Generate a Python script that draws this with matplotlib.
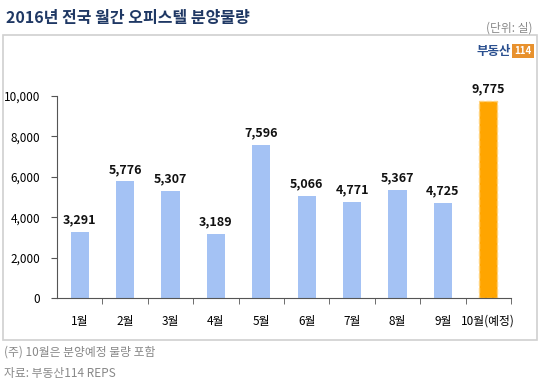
import matplotlib.pyplot as plt
from matplotlib.patches import Rectangle
from matplotlib.ticker import FuncFormatter, FixedLocator

plt.rcParams['font.family'] = ['Noto Sans CJK KR', 'DejaVu Sans']

# 월별 오피스텔 분양물량 (실)
months = ['1월', '2월', '3월', '4월', '5월', '6월', '7월', '8월', '9월', '10월(예정)']
values = [3291, 5776, 5307, 3189, 7596, 5066, 4771, 5367, 4725, 9775]
yticks = [0, 2000, 4000, 6000, 8000, 10000]

fig = plt.figure(figsize=(5.4, 3.84), dpi=100)

# outer frame
fig.patches.append(Rectangle((3 / 540, 1 - 340 / 384), 534 / 540, 305 / 384,
                             transform=fig.transFigure, fill=False,
                             edgecolor='#d0d0d0', linewidth=1.2))

ax = fig.add_axes([57 / 540, 1 - 298 / 384, 454 / 540, 202 / 384])
x = range(len(months))
colors = ['#a4c2f4'] * 9 + ['#ffa500']
bars = ax.bar(x, values, width=0.4, color=colors)
bars[-1].set_edgecolor('#ffd27a')
bars[-1].set_linestyle('--')
bars[-1].set_linewidth(1)

for xi, v in zip(x, values):
    ax.text(xi, v + 250, f'{v:,}', ha='center', va='bottom',
            fontsize=9, fontweight='bold', color='#111111')

ax.set_xlim(-0.5, len(months) - 0.5)
ax.set_ylim(0, 10000)
ax.set_yticks(yticks)
ax.yaxis.set_major_formatter(FuncFormatter(lambda v, p: f'{int(v):,}'))
ax.set_xticks(list(x))
ax.set_xticklabels(months)
ax.xaxis.set_minor_locator(FixedLocator([i + 0.5 for i in range(len(months))]))
ax.tick_params(axis='x', which='major', length=0, pad=12, labelsize=8.5)
ax.tick_params(axis='x', which='minor', length=4, color='#555555')
ax.tick_params(axis='y', length=4, color='#555555', labelsize=8.5, pad=8)
for s in ['top', 'right']:
    ax.spines[s].set_visible(False)
for s in ['left', 'bottom']:
    ax.spines[s].set_color('#555555')

fig.text(6 / 540, 1 - 18 / 384, '2016년 전국 월간 오피스텔 분양물량', fontsize=11.5,
         fontweight='bold', color='#1f3864', va='center')
fig.text(533 / 540, 1 - 28 / 384, '(단위: 실)', fontsize=8.5, color='#888888',
         ha='right', va='center')
fig.text(511 / 540, 1 - 51 / 384, '부동산', fontsize=9, fontweight='bold',
         style='italic', color='#2a4f8f', ha='right', va='center')
fig.text(514 / 540, 1 - 51 / 384, '114', fontsize=7, fontweight='bold', color='white',
         ha='left', va='center',
         bbox=dict(boxstyle='square,pad=0.25', fc='#e8912d', ec='none'))
fig.text(4 / 540, 1 - 352 / 384, '(주) 10월은 분양예정 물량 포함', fontsize=8.5,
         color='#888888', va='center')
fig.text(4 / 540, 1 - 373 / 384, '자료: 부동산114 REPS', fontsize=8.5,
         color='#888888', va='center')

fig.savefig('out.png', dpi=100)
